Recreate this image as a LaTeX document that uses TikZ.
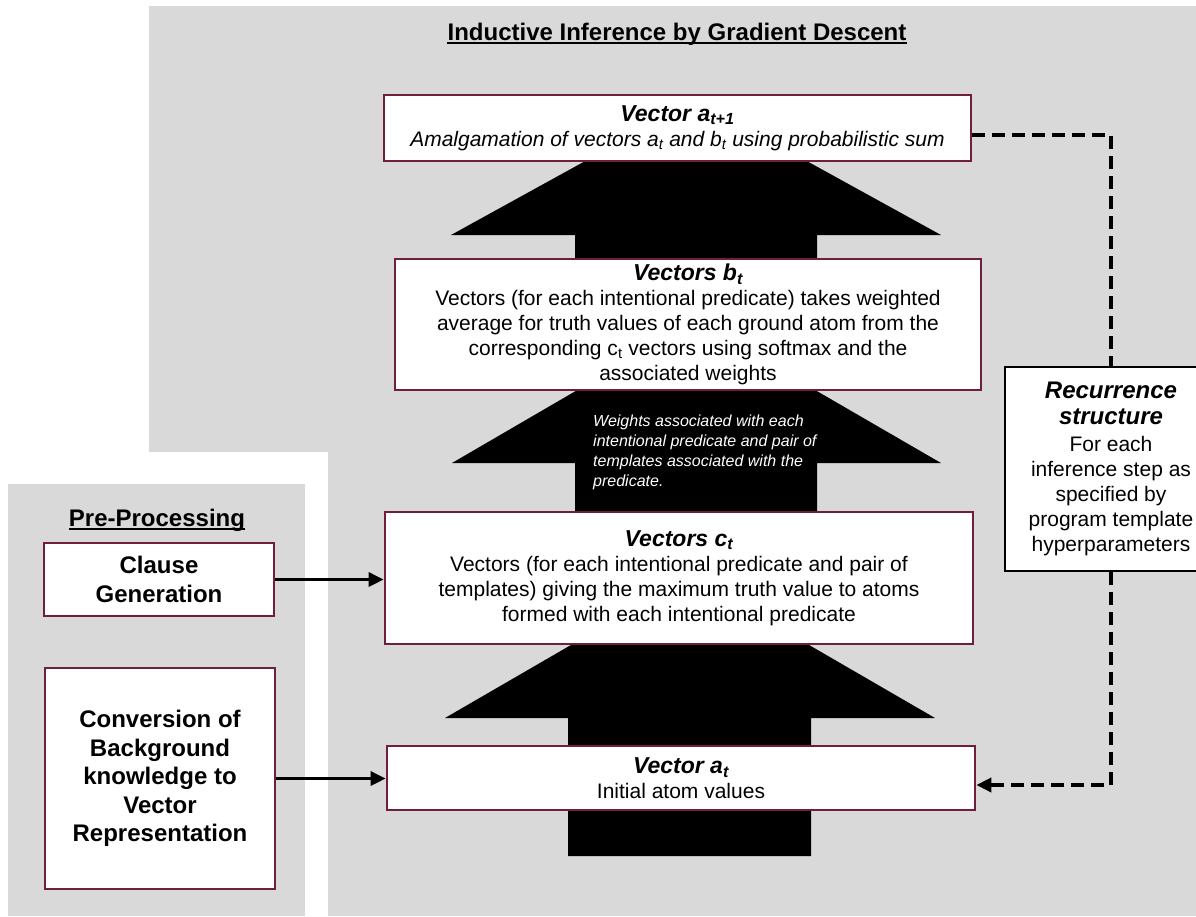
\documentclass[tikz,border=0pt]{standalone}
\usepackage{fontspec}
\setmainfont{Liberation Sans}
\usetikzlibrary{arrows.meta}
\definecolor{panelgray}{RGB}{217,217,217}
\definecolor{boxmaroon}{RGB}{112,30,58}
\newcommand\stagetitle{\bfseries\itshape\fontsize{23}{25}\selectfont}
\tikzset{
  stage/.style={draw=boxmaroon, line width=2.7pt, fill=white, inner sep=0pt,
                align=center, font=\fontsize{21}{25}\selectfont},
  prebox/.style={stage, font=\bfseries\fontsize{24}{28.5}\selectfont},
  recbox/.style={draw=black, line width=1.5pt, fill=white, inner sep=0pt,
                 align=center, font=\fontsize{21}{25}\selectfont},
  heading/.style={inner sep=0pt, anchor=base, font=\bfseries\fontsize{24}{28}\selectfont},
  feed/.style={line width=3pt, -{Triangle[length=15pt,width=14pt]}},
  loopback/.style={line width=4pt, dash pattern=on 13pt off 7pt,
                   -{Triangle[length=15pt,width=14pt]}},
  flowshape/.style={fill=black}
}
\begin{document}
\begin{tikzpicture}[x=1pt, y=-1pt]
\clip (0,0) rectangle (1196,916);
\fill[white] (0,0) rectangle (1196,916);

% panels
\fill[panelgray] (149,6) rectangle (1196,916);
\fill[white] (0,452) rectangle (328,916);
\fill[panelgray] (8,484) rectangle (305,916);

% headings
\node[heading] (maintitle) at (677,40) {Inductive Inference by Gradient Descent};
\draw[line width=1.8pt] ([yshift=-3pt]maintitle.base west) -- ([yshift=-3pt]maintitle.base east);
\node[heading] (pretitle) at (157,526) {Pre-Processing};
\draw[line width=1.8pt] ([yshift=-3pt]pretitle.base west) -- ([yshift=-3pt]pretitle.base east);

% block arrows between the stages
\fill[flowshape] (575,300) -- (575,235) -- (451,235) -- (696,100) -- (941,235) -- (817,235) -- (817,300) -- cycle;
\fill[flowshape] (575,540) -- (575,463) -- (452,463) -- (696,321) -- (941,463) -- (817,463) -- (817,540) -- cycle;
\fill[flowshape] (568,856) -- (568,718) -- (445,718) -- (690,576) -- (935,718) -- (811,718) -- (811,856) -- cycle;

\node[anchor=north west, inner sep=0pt, align=left, text=white,
      font=\itshape\fontsize{16}{20}\selectfont] (weightnote) at (593,415)
  {Weights associated with each\\intentional predicate and pair of\\templates associated with the\\predicate.};

% stages
\node[stage, minimum width=587pt, minimum height=66pt] (atp1) at (677.5,128)
  {{\stagetitle Vector a\textsubscript{t+1}}\\
   {\itshape Amalgamation of vectors a\textsubscript{t} and b\textsubscript{t} using probabilistic sum}};

\node[stage, minimum width=586pt, minimum height=131pt] (bt) at (688,324.5)
  {{\stagetitle Vectors b\textsubscript{t}}\\
   Vectors (for each intentional predicate) takes weighted\\
   average for truth values of each ground atom from the\\
   corresponding c\textsubscript{t} vectors using softmax and the\\
   associated weights};

\node[stage, minimum width=588pt, minimum height=132pt] (ct) at (679,578)
  {{\stagetitle Vectors c\textsubscript{t}}\\
   Vectors (for each intentional predicate and pair of\\
   templates) giving the maximum truth value to atoms\\
   formed with each intentional predicate};

\node[stage, minimum width=588pt, minimum height=64pt] (at) at (681,778)
  {{\stagetitle Vector a\textsubscript{t}}\\
   Initial atom values};

% pre-processing steps
\node[prebox, minimum width=230pt, minimum height=73pt] (clause) at (159,579.5)
  {Clause\\Generation};
\node[prebox, minimum width=230pt, minimum height=221pt] (conv) at (160,778.5)
  {Conversion of\\Background\\knowledge to\\Vector\\Representation};

% recurrence
\node[recbox, minimum width=212pt, minimum height=204pt] (rec) at (1111,469)
  {{\bfseries\itshape\fontsize{24}{27}\selectfont Recurrence}\\[1pt]
   {\bfseries\itshape\fontsize{24}{27}\selectfont structure}\\[2pt]
   For each\\
   inference step as\\
   specified by\\
   program template\\
   hyperparameters};

% connectors
\draw[feed] (clause.east) -- (clause.east -| ct.west);
\draw[feed] (conv.east) -- (conv.east -| at.west);
\draw[loopback, -] ([yshift=-7pt]atp1.east) -| (rec.north);
\draw[loopback] (rec.south) |- ([yshift=-7pt]at.east);
\end{tikzpicture}
\end{document}
